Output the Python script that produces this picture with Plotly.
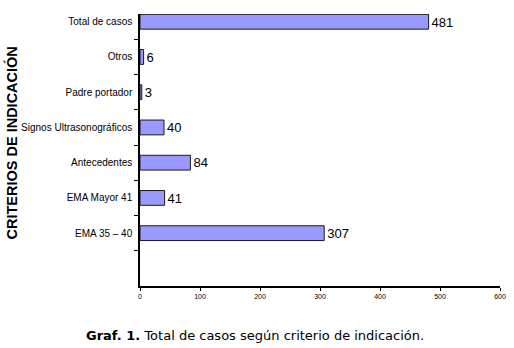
import plotly.graph_objects as go

categories = ["EMA 35 – 40", "EMA Mayor 41", "Antecedentes", "Signos Ultrasonográficos",
              "Padre portador", "Otros", "Total de casos"]
values = [307, 41, 84, 40, 3, 6, 481]
x_ticks = [0, 100, 200, 300, 400, 500, 600]
y_title = "CRITERIOS DE INDICACIÓN"
caption = "<b>Graf. 1.</b> Total de casos según criterio de indicación."

fig = go.Figure(go.Bar(
    x=values, y=categories, orientation="h",
    marker=dict(color="#9999FF", line=dict(color="#1a1a1a", width=1)),
    width=0.42,
    text=[str(v) for v in values], textposition="outside",
    textfont=dict(family="Liberation Sans, Arial", size=15, color="black"),
    cliponaxis=False,
))

fig.update_layout(
    width=514, height=348,
    margin=dict(l=140, r=14, t=14, b=62, autoexpand=False),
    paper_bgcolor="white", plot_bgcolor="white",
    showlegend=False,
    xaxis=dict(range=[0, 600], tickvals=x_ticks, showgrid=False, zeroline=False,
               showline=True, linecolor="black", linewidth=1.5,
               ticks="outside", ticklen=3, tickcolor="black", automargin=False,
               tickfont=dict(family="Liberation Sans, Arial", size=7, color="black")),
    yaxis=dict(type="category", categoryarray=categories, range=[-1.5, 6.22],
               showgrid=False, zeroline=False, showline=True, linecolor="black", linewidth=1.5,
               ticks="outside", ticklen=4, tickcolor="black", tickson="boundaries",
               automargin=False, ticklabelstandoff=4,
               tickfont=dict(family="Liberation Sans, Arial", size=10, color="black")),
    annotations=[
        dict(text="<b>" + y_title + "</b>", textangle=-90, xref="paper", yref="paper",
             x=-140/360, xanchor="left", y=(286-143)/272, yanchor="middle", showarrow=False,
             font=dict(family="Liberation Sans, Arial", size=14.5, color="black")),
        dict(text=caption, xref="paper", yref="paper", x=(255-140)/360, xanchor="center",
             y=-(335-286)/272, yanchor="middle", showarrow=False,
             font=dict(family="DejaVu Sans, Verdana", size=13, color="black")),
    ],
)

fig.write_html("out.html")
